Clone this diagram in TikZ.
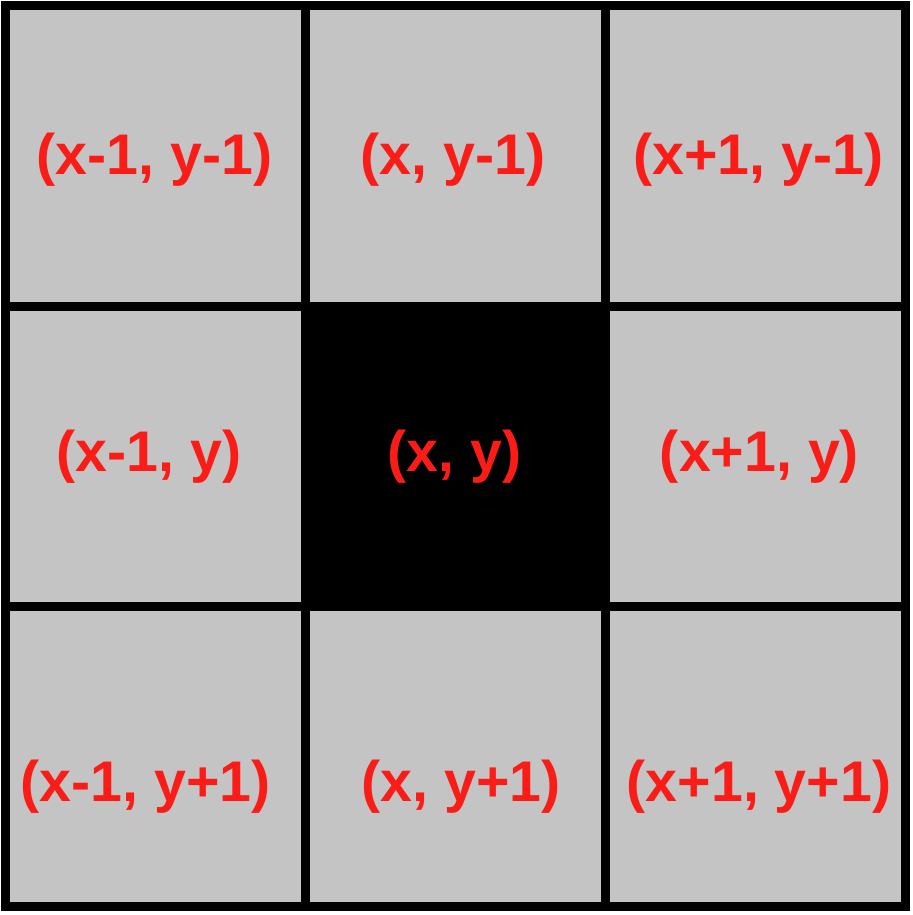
\documentclass[tikz,border=0pt]{standalone}
\usepackage{fontspec}
\setmainfont{Liberation Sans}
\usepackage{xcolor}
\definecolor{cellgray}{RGB}{196,196,196}
\definecolor{labelred}{RGB}{250,28,22}
\newcommand{\cell}[5] {
    \node[cell,fill={#3}] (c#1#2) at ({1.555+3*#1}, {-1.56-3*#2}) {};
    \node[lbl] (t#1#2) at ([shift={(#5)}]c#1#2.center) {#4};
}
\tikzset{
    cell/.style={
        rectangle,
        minimum size=30mm,
        inner sep=0mm,
        outer sep=0mm,
        line width=0.9mm,
        draw=black
    },
    lbl/.style={
        text=labelred,
        font=\fontsize{16.3}{19}\selectfont\bfseries,
        inner sep=0mm
    }
}
\begin{document}
\begin{tikzpicture}
        \fill[white] (0,0) rectangle (9.13,-9.15);
        \useasboundingbox (0,0) rectangle (9.13,-9.15);
        \cell{0}{0}{cellgray}{(x-1, y-1)}{-0.01,-0.04}
        \cell{1}{0}{cellgray}{(x, y-1)}{-0.025,-0.04}
        \cell{2}{0}{cellgray}{(x+1, y-1)}{0.03,-0.04}
        \cell{0}{1}{cellgray}{(x-1, y)}{-0.065,-0.01}
        \cell{1}{1}{black}{(x, y)}{-0.01,-0.01}
        \cell{2}{1}{cellgray}{(x+1, y)}{0.04,-0.01}
        \cell{0}{2}{cellgray}{(x-1, y+1)}{-0.10,-0.31}
        \cell{1}{2}{cellgray}{(x, y+1)}{0.055,-0.31}
        \cell{2}{2}{cellgray}{(x+1, y+1)}{0.035,-0.31}
    \end{tikzpicture}
\end{document}
